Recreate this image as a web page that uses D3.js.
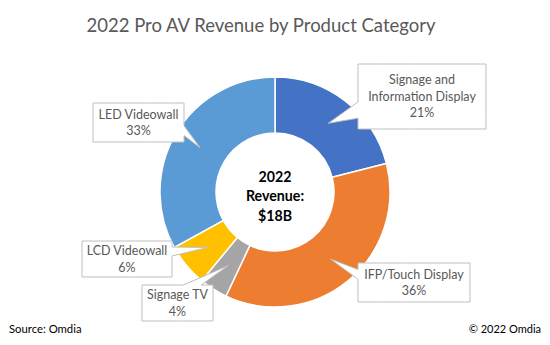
<!DOCTYPE html>
<html>
<head>
<meta charset="utf-8">
<script src="https://cdn.jsdelivr.net/npm/d3@7"></script>
<style>
  body { margin: 0; background: #fff; }
  text { font-family: Lato, "Open Sans", sans-serif; }
</style>
</head>
<body>
<svg id="chart" width="550" height="345"></svg>
<script>
// product categories, clockwise from 12 o'clock
var categories = ["Signage and Information Display", "IFP/Touch Display", "Signage TV", "LCD Videowall", "LED Videowall"];
var shares = [21, 36, 4, 6, 33];
var labelLines = [["Signage and", "Information Display", "21%"], ["IFP/Touch Display", "36%"], ["Signage TV", "4%"], ["LCD Videowall", "6%"], ["LED Videowall", "33%"]];
var colors = ["#4472C4", "#ED7D31", "#A5A5A5", "#FFC000", "#5B9BD5"];
var centerLines = ["2022", "Revenue:", "$18B"];

// callout boxes (left, top, width, height)
var boxes = [[358, 64, 128, 65], [358, 263, 112, 39], [142, 285, 71, 36], [82, 241, 90, 36], [93, 103, 91, 39]];

var svg = d3.select("#chart");
var cx = 275, cy = 192, rOuter = 115, rInner = 59;

svg.append("text")
    .attr("x", 261).attr("y", 32)
    .attr("text-anchor", "middle")
    .attr("font-size", 18.5)
    .attr("fill", "#595959")
    .text("2022 Pro AV Revenue by Product Category");

var data = categories.map(function(c, i) { return {name: c, value: shares[i], color: colors[i], lines: labelLines[i], box: boxes[i]}; });

var pie = d3.pie().sort(null).value(function(d) { return d.value; });
var arc = d3.arc().innerRadius(rInner).outerRadius(rOuter);

var g = svg.append("g").attr("transform", "translate(" + cx + "," + cy + ")");

var arcs = pie(data);

g.selectAll("path.slice")
    .data(arcs)
  .enter().append("path")
    .attr("class", "slice")
    .attr("d", arc)
    .attr("fill", function(d) { return d.data.color; })
    .attr("stroke", "#fff")
    .attr("stroke-width", 1.5);

// centre label
svg.selectAll("text.center")
    .data(centerLines)
  .enter().append("text")
    .attr("class", "center")
    .attr("x", cx)
    .attr("y", function(d, i) { return 177 + i * 19.5; })
    .attr("dy", "0.35em")
    .attr("text-anchor", "middle")
    .attr("font-size", 14.2)
    .attr("font-weight", "bold")
    .attr("fill", "#000")
    .text(function(d) { return d; });

// rectangular callout with a wedge pointing at (px, py)
function calloutPath(b, px, py) {
  var l = b[0], t = b[1], w = b[2], h = b[3], r = l + w, bt = t + h;
  var hc = l + w / 2, vc = t + h / 2;
  var dx = px - hc, dy = py - vc;
  var dz = Math.abs(dy) - Math.abs(dx * h / w);
  var x1 = l + w * (dx > 0 ? 7 : 2) / 12, x2 = l + w * (dx > 0 ? 10 : 5) / 12;
  var y1 = t + h * (dy > 0 ? 7 : 2) / 12, y2 = t + h * (dy > 0 ? 10 : 5) / 12;
  var side = dz > 0 ? (dy < 0 ? "top" : "bottom") : (dx < 0 ? "left" : "right");
  var p = d3.path();
  p.moveTo(l, t);
  p.lineTo(x1, t);
  if (side === "top") p.lineTo(px, py);
  p.lineTo(x2, t);
  p.lineTo(r, t);
  p.lineTo(r, y1);
  if (side === "right") p.lineTo(px, py);
  p.lineTo(r, y2);
  p.lineTo(r, bt);
  p.lineTo(x2, bt);
  if (side === "bottom") p.lineTo(px, py);
  p.lineTo(x1, bt);
  p.lineTo(l, bt);
  p.lineTo(l, y2);
  if (side === "left") p.lineTo(px, py);
  p.lineTo(l, y1);
  p.closePath();
  return p.toString();
}

var labels = svg.selectAll("g.callout")
    .data(arcs)
  .enter().append("g")
    .attr("class", "callout");

labels.append("path")
    .attr("d", function(d) {
      var c = arc.centroid(d);
      return calloutPath(d.data.box, cx + c[0], cy + c[1]);
    })
    .attr("fill", "#fff")
    .attr("stroke", "#BFBFBF")
    .attr("stroke-width", 1);

labels.each(function(d) {
  var b = d.data.box, n = d.data.lines.length, lh = 16.5;
  d3.select(this).selectAll("text")
      .data(d.data.lines)
    .enter().append("text")
      .attr("x", b[0] + b[2] / 2)
      .attr("y", function(s, i) { return b[1] + b[3] / 2 + (i - (n - 1) / 2) * lh; })
      .attr("dy", "0.35em")
      .attr("text-anchor", "middle")
      .attr("font-size", 12.5)
      .attr("fill", "#595959")
      .text(function(s) { return s; });
});

svg.append("text")
    .attr("x", 9).attr("y", 333)
    .attr("font-size", 11.3)
    .attr("fill", "#000")
    .text("Source: Omdia");

svg.append("text")
    .attr("x", 541).attr("y", 333)
    .attr("text-anchor", "end")
    .attr("font-size", 11)
    .attr("fill", "#000")
    .text("\u00A9 2022 Omdia");
</script>
</body>
</html>
